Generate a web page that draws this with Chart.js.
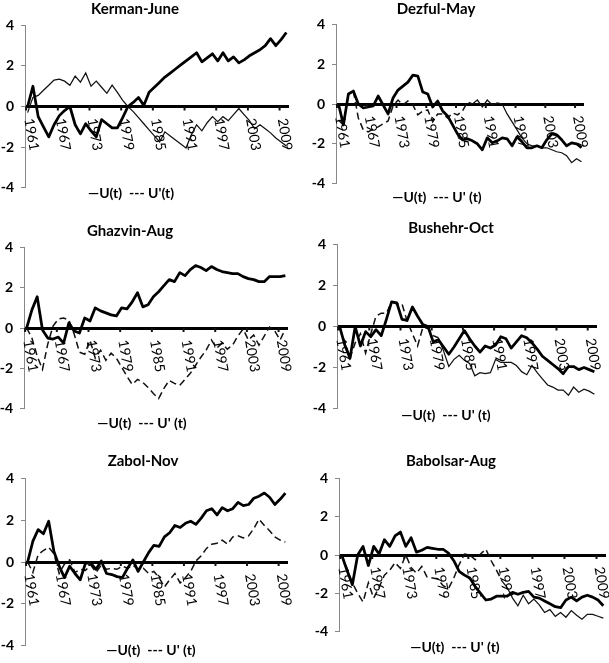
<!DOCTYPE html>
<html><head><meta charset="utf-8">
<script src="https://cdn.jsdelivr.net/npm/chart.js@4.4.1/dist/chart.umd.min.js"></script>
<style>
html,body{margin:0;padding:0;background:#fff;width:609px;height:663px;overflow:hidden;}
#wrap{position:relative;width:609px;height:663px;}
canvas{position:absolute;}
.t{position:absolute;font-family:Lato,'Open Sans',sans-serif;font-weight:bold;font-size:15px;color:#000;white-space:pre;transform:translate(-50%,-50%);line-height:1;}
.lg{font-size:14px;}
</style></head><body><div id="wrap"></div>
<script>
const years = ['1961','1962','1963','1964','1965','1966','1967','1968','1969','1970',
'1971','1972','1973','1974','1975','1976','1977','1978','1979','1980',
'1981','1982','1983','1984','1985','1986','1987','1988','1989','1990',
'1991','1992','1993','1994','1995','1996','1997','1998','1999','2000',
'2001','2002','2003','2004','2005','2006','2007','2008','2009','2010'];
const tickYears = ['1961','1967','1973','1979','1985','1991','1997','2003','2009'];
const yTicks = [-4,-2,0,2,4];

const kermanU  = [0,1.0,-0.5,-1.0,-1.5,-0.9,-0.45,-0.2,0.0,-0.9,-1.35,-0.85,-1.2,-1.5,-0.65,-0.85,-1.05,-1.05,-0.55,0.0,0.2,0.45,0.05,0.7,0.95,1.2,1.45,1.65,1.85,2.05,2.25,2.45,2.65,2.2,2.4,2.6,2.25,2.65,2.25,2.45,2.15,2.3,2.5,2.65,2.8,3.0,3.35,3.0,3.3,3.65];
const kermanUp = [-0.3,0.45,0.55,0.8,1.05,1.3,1.35,1.25,1.05,1.5,1.2,1.65,1.0,1.25,0.95,0.65,1.05,0.7,0.3,0.0,-0.25,-0.55,-0.85,-1.15,-1.45,-1.75,-1.25,-1.45,-1.65,-1.85,-2.05,-1.4,-0.9,-1.2,-0.8,-0.5,-0.75,-0.5,-0.7,-0.4,-0.1,-0.4,-0.7,-1.1,-0.9,-1.1,-1.3,-1.55,-1.75,-1.95];

const dezfulU  = [0,-1.05,0.5,0.65,0.0,-0.2,-0.15,-0.1,0.4,-0.05,-0.5,0.3,0.7,0.9,1.1,1.45,1.4,0.6,0.5,-0.15,0.15,-0.35,-0.6,-1.05,-1.5,-1.8,-1.75,-1.85,-2.0,-2.3,-1.7,-1.95,-1.85,-1.7,-1.75,-2.1,-1.65,-1.9,-2.2,-2.2,-2.1,-2.2,-1.8,-1.5,-1.55,-1.8,-2.1,-1.95,-2.0,-2.2];
const dezfulUp = [-0.8,-1.05,0.5,0.65,-0.7,-1.3,-1.4,-1.25,-1.15,-1.0,-0.85,-0.1,0.2,-0.05,0.15,-0.05,-0.55,-0.35,-0.3,-0.9,-0.5,-0.5,-0.7,-0.45,-0.55,-0.35,0.1,0.0,0.2,-0.15,0.2,-0.05,0.05,0.0,-0.5,-0.9,-1.3,-1.7,-2.0,-2.1,-2.1,-2.2,-2.2,-2.3,-2.4,-2.45,-2.6,-2.95,-2.75,-2.9];

const ghazvinU  = [0,0.9,1.55,-0.1,-0.5,-0.55,-0.45,-0.75,0.25,-0.15,-0.25,0.5,0.35,1.0,0.85,0.75,0.65,0.6,1.0,0.95,1.3,1.75,1.05,1.15,1.55,1.8,2.1,2.4,2.3,2.75,2.6,2.9,3.1,3.0,2.85,3.05,2.9,2.8,2.75,2.7,2.7,2.55,2.45,2.4,2.3,2.3,2.55,2.55,2.55,2.6];
const ghazvinUp = [0,-0.5,-1.4,-2.05,-0.8,0.1,0.45,0.5,0.4,-0.3,-1.2,-1.3,-0.6,-1.5,-1.1,-1.6,-1.25,-1.5,-1.95,-2.4,-2.8,-2.55,-2.7,-2.95,-3.25,-3.5,-3.0,-2.6,-2.75,-2.85,-2.55,-2.25,-1.85,-1.45,-1.1,-0.6,-1.0,-0.75,-1.05,-0.85,-0.4,-0.05,-0.6,-0.35,-0.85,-0.4,0.05,-0.15,-0.6,-0.05];

const bushehrU  = [0,-0.9,-1.55,0.0,-0.95,-0.25,-0.5,-0.15,-0.45,0.35,1.2,1.15,0.35,0.3,0.95,0.5,0.1,0.0,-0.75,-0.65,-1.0,-1.35,-1.0,-0.6,-0.2,-0.6,-0.95,-1.25,-0.95,-1.05,-0.9,-0.5,-0.6,-1.05,-0.75,-0.45,-0.55,-0.8,-1.1,-1.45,-1.65,-1.85,-2.05,-2.3,-1.95,-1.95,-2.1,-2.0,-2.1,-2.2];
const bushehrUp = [0,-0.8,-1.55,-0.8,-0.35,-1.3,-0.35,0.5,0.65,0.65,1.2,1.1,1.1,0.25,-0.35,-0.95,-0.05,-0.1,-0.45,-0.55,-1.2,-1.95,-1.6,-1.4,-1.65,-1.8,-2.4,-2.25,-2.3,-2.25,-1.6,-1.75,-1.75,-1.75,-1.9,-2.2,-2.35,-1.9,-2.25,-2.55,-2.85,-2.95,-3.1,-3.1,-3.35,-2.95,-3.2,-3.05,-3.15,-3.3];

const zabolU  = [0,1.0,1.55,1.35,1.95,0.5,-0.2,-0.75,-0.2,-0.55,-0.85,-0.05,-0.05,-0.35,0.05,-0.55,-0.6,-0.7,-0.75,-0.3,0.1,-0.45,0.0,0.45,0.8,0.75,1.2,1.4,1.75,1.65,1.85,1.95,1.8,2.1,2.45,2.55,2.25,2.6,2.45,2.55,2.85,2.7,2.75,3.05,3.15,3.3,3.1,2.75,3.0,3.3];
const zabolUp = [0,-0.5,0.35,0.55,0.7,0.4,-0.55,-0.1,0.1,-0.5,-0.35,-0.4,-0.15,-0.5,-0.15,-0.35,-0.3,-0.35,-0.2,-0.3,-0.15,-0.35,-0.3,-0.55,-0.45,-0.75,-1.2,-0.85,-0.55,-1.0,-0.75,-0.45,0.05,0.3,0.65,0.85,0.9,1.05,0.85,1.2,1.25,1.15,1.25,1.6,2.05,1.75,1.5,1.2,1.05,0.95];

const babolsarU  = [0,-0.8,-1.55,0.0,0.45,-0.55,0.45,0.05,0.8,0.45,1.0,1.2,0.45,0.9,0.15,0.25,0.4,0.35,0.3,0.3,0.1,-0.3,-0.85,-1.05,-1.2,-1.65,-2.0,-2.35,-2.3,-2.15,-2.15,-2.15,-1.95,-2.05,-1.95,-1.9,-2.2,-2.25,-2.4,-2.55,-2.7,-2.75,-2.35,-2.2,-2.4,-2.2,-2.1,-2.2,-2.35,-2.65];
const babolsarUp = [0,-0.7,-1.45,-2.0,-2.45,-1.45,-2.25,-1.7,-1.05,-0.8,-0.4,-0.7,0.0,-0.65,-0.95,-0.6,-1.15,-1.2,-1.25,-1.6,-1.75,-1.2,-0.5,0.05,0.0,-0.25,0.05,0.3,-0.3,-0.8,-1.35,-1.7,-2.25,-2.65,-2.1,-2.55,-2.3,-2.6,-3.0,-2.85,-3.2,-3.0,-3.25,-2.9,-3.15,-3.35,-3.1,-3.1,-3.2,-3.3];

const panels = [
  {title:'Kerman-June',  legend:"\u2014U(t)  --- U'(t)",  u:kermanU,   up:kermanUp,   dashUntil:0,  area:[25,20,289,193],  tpos:[135,8],   lpos:[131,193]},
  {title:'Dezful-May',   legend:"\u2014U(t)  --- U' (t)", u:dezfulU,   up:dezfulUp,   dashUntil:27, area:[336,19,584,189], tpos:[436,8],   lpos:[437,197]},
  {title:'Ghazvin-Aug',  legend:"\u2014U(t)  --- U' (t)", u:ghazvinU,  up:ghazvinUp,  dashUntil:50, area:[24,242,288,414], tpos:[130,230], lpos:[142,423]},
  {title:'Bushehr-Oct',  legend:"\u2014U(t)  --- U' (t)", u:bushehrU,  up:bushehrUp,  dashUntil:19, area:[337,239,597,414],tpos:[451,227], lpos:[446,415]},
  {title:'Zabol-Nov',    legend:"\u2014U(t)  --- U' (t)", u:zabolU,    up:zabolUp,    dashUntil:50, area:[25,473,288,651], tpos:[143,460], lpos:[151,650]},
  {title:'Babolsar-Aug', legend:"\u2014U(t)  --- U' (t)", u:babolsarU, up:babolsarUp, dashUntil:30, area:[339,473,606,637],tpos:[451,460], lpos:[455,647]}
];

const axisDecor = {
  id:'axisDecor',
  afterDatasetsDraw(chart){
    const xs=chart.scales.x, ys=chart.scales.y, ctx=chart.ctx;
    const y0=ys.getPixelForValue(0);
    ctx.save();
    ctx.strokeStyle='#111'; ctx.lineWidth=2;
    chart.data.labels.forEach((lab,i)=>{
      if(!tickYears.includes(lab)) return;
      const x=xs.getPixelForValue(i);
      ctx.beginPath(); ctx.moveTo(x-1.5,y0); ctx.lineTo(x-1.5,y0+4); ctx.stroke();
      ctx.save();
      ctx.translate(x+1,y0+12);
      ctx.rotate(80*Math.PI/180);
      ctx.fillStyle='#000'; ctx.font='14px Lato';
      ctx.textAlign='left'; ctx.textBaseline='middle';
      ctx.fillText(lab,0,0);
      ctx.restore();
    });
    ctx.restore();
  }
};

const wrap=document.getElementById('wrap');
panels.forEach(p=>{
  const [L,T,R,B]=p.area;
  const padT=10,padB=10,padR=12,axisW=25;
  const c=document.createElement('canvas');
  const W=R-L+axisW+padR, H=B-T+padT+padB;
  c.width=W; c.height=H;
  c.style.width=W+'px'; c.style.height=H+'px';
  c.style.left=(L-axisW)+'px'; c.style.top=(T-padT)+'px';
  wrap.appendChild(c);
  const t=document.createElement('div'); t.className='t'; t.textContent=p.title;
  t.style.left=p.tpos[0]+'px'; t.style.top=p.tpos[1]+'px'; wrap.appendChild(t);
  const l=document.createElement('div'); l.className='t lg'; l.textContent=p.legend;
  l.style.left=p.lpos[0]+'px'; l.style.top=p.lpos[1]+'px'; wrap.appendChild(l);
  const du=p.dashUntil;
  new Chart(c,{
    type:'line',
    data:{labels:years,datasets:[
      {label:'U(t)',data:p.u,borderColor:'#000',borderWidth:2.75,pointRadius:0,tension:0,order:0,borderJoinStyle:'round'},
      {label:"U'(t)",data:p.up,borderColor:'#111',borderWidth:1.25,pointRadius:0,tension:0,order:1,
        segment:{borderDash:ctx=>ctx.p0DataIndex<du?[7,4]:[], borderWidth:ctx=>ctx.p0DataIndex<du?1.5:1.25}}
    ]},
    options:{
      responsive:false, animation:false, devicePixelRatio:1,
      layout:{padding:{top:padT,bottom:padB,left:0,right:padR}},
      plugins:{legend:{display:false},tooltip:{enabled:false},title:{display:false}},
      scales:{
        x:{type:'category',offset:true,ticks:{display:false},grid:{display:false,drawTicks:false},border:{display:false},
           afterFit:s=>{s.height=0;}},
        y:{min:-4,max:4,afterBuildTicks:s=>{s.ticks=yTicks.map(v=>({value:v}));},
           ticks:{color:'#000',font:{family:'Lato',weight:'bold',size:14},padding:7},
           grid:{color:ctx=>ctx.tick&&ctx.tick.value===0?'#000':'rgba(0,0,0,0)',
                 lineWidth:ctx=>ctx.tick&&ctx.tick.value===0?3:1,
                 tickColor:'#888',tickLength:4,tickWidth:1,drawTicks:true},
           border:{color:'#888',width:1},
           afterFit:s=>{s.width=axisW;}}
      }
    },
    plugins:[axisDecor]
  });
});
</script>
</body></html>
